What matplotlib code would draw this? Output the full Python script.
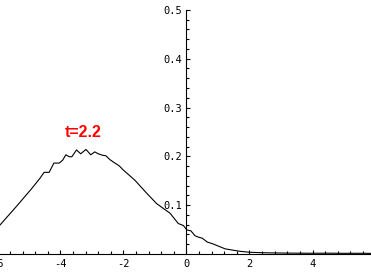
import matplotlib
matplotlib.use("Agg")
import matplotlib.pyplot as plt
from matplotlib.ticker import MultipleLocator, FixedLocator, FuncFormatter

# curve values (x, density)
x_vals = [-5.92, -5.4, -4.91, -4.65, -4.52, -4.36, -4.21, -4.04, -3.93,
          -3.83, -3.72, -3.64, -3.49, -3.36, -3.19, -3.04, -2.91, -2.80,
          -2.66, -2.56, -2.43, -2.34, -2.13, -2.01, -1.64, -1.26, -0.95,
          -0.52, -0.26, -0.10, 0.01, 0.14, 0.27, 0.38, 0.50, 0.66, 0.85,
          1.23, 1.70, 2.02, 2.5, 3.0, 3.5, 4.0, 4.5, 5.0, 5.5, 5.86]
y_vals = [0.059, 0.097, 0.134, 0.155, 0.167, 0.167, 0.186, 0.186, 0.192,
          0.203, 0.199, 0.199, 0.213, 0.205, 0.214, 0.203, 0.209, 0.205,
          0.202, 0.201, 0.193, 0.189, 0.180, 0.172, 0.151, 0.124, 0.103,
          0.083, 0.062, 0.058, 0.049, 0.047, 0.037, 0.034, 0.032, 0.024,
          0.020, 0.010, 0.005, 0.003, 0.002, 0.0015, 0.0012, 0.001,
          0.0012, 0.0009, 0.001, 0.0008]

label_text = "t=2.2"
label_pos = (-3.29, 0.248)

plt.rcParams["axes.unicode_minus"] = False

fig = plt.figure(figsize=(3.71, 2.72), dpi=100)
ax = fig.add_axes([0, 0, 1, 1])
ax.set_xlim(-5.92, 5.857)
ax.set_ylim(-0.0374, 0.5205)

ax.plot(x_vals, y_vals, color="black", lw=0.8)
ax.text(*label_pos, label_text, color="red", fontsize=11.5,
        fontweight="bold", family="Liberation Sans", ha="center", va="center")

for side in ["top", "right"]:
    ax.spines[side].set_visible(False)
ax.spines["left"].set_position(("data", 0))
ax.spines["bottom"].set_position(("data", 0))
ax.spines["left"].set_bounds(0, 0.5)
for side in ["left", "bottom"]:
    ax.spines[side].set_linewidth(0.8)

ax.xaxis.set_major_locator(MultipleLocator(2))
ax.xaxis.set_minor_locator(MultipleLocator(0.4))
ax.yaxis.set_major_locator(FixedLocator([0.1, 0.2, 0.3, 0.4, 0.5]))
ax.yaxis.set_minor_locator(FixedLocator([i * 0.02 for i in range(1, 25)]))
ax.xaxis.set_major_formatter(FuncFormatter(lambda v, p: f"{v:g}"))
ax.yaxis.set_major_formatter(FuncFormatter(lambda v, p: f"{v:.1f}"))

ax.tick_params(which="both", direction="in", width=0.8,
               labelsize=7.5, labelfontfamily="DejaVu Sans Mono")
ax.tick_params(which="major", length=3.2)
ax.tick_params(which="minor", length=2.0)
ax.tick_params(axis="y", pad=3)
ax.tick_params(axis="x", pad=4)

# the "-6" label sits half outside the picture, as in the original
ax.annotate("-6", xy=(-6, 0), xytext=(0, -4), textcoords="offset points",
            fontsize=7.5, family="DejaVu Sans Mono",
            ha="center", va="top", annotation_clip=False)

fig.savefig("out.png", dpi=100)
